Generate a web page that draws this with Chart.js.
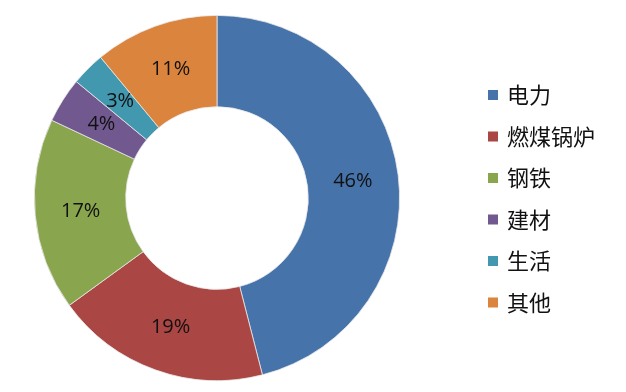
<!DOCTYPE html>
<html>
<head>
<meta charset="utf-8">
<script src="https://cdn.jsdelivr.net/npm/chart.js@4"></script>
<style>
  html, body { margin: 0; padding: 0; background: #fff; }
  #wrap { width: 626px; height: 392px; }
</style>
</head>
<body>
<div id="wrap"><canvas id="myChart" width="626" height="392"></canvas></div>
<script>
"use strict";

let categories = ['电力', '燃煤锅炉', '钢铁', '建材', '生活', '其他'];
let shares = [46, 19, 17, 4, 3, 11];
let sliceColors = ['#4673AA', '#AA4643', '#89A54E', '#71588F', '#4198AF', '#DB843D'];

// percent labels in the middle of each slice
let sliceLabels = {
    id: 'sliceLabels',
    afterDatasetsDraw(chart){
        let ctx = chart.ctx;
        let meta = chart.getDatasetMeta(0);
        let total = shares.reduce((a, b) => a + b, 0);
        ctx.save();
        ctx.font = '20px "Open Sans", sans-serif';
        ctx.fillStyle = '#111';
        ctx.textAlign = 'center';
        ctx.textBaseline = 'middle';
        for(let i = 0; i < meta.data.length; i++){
            let p = meta.data[i].getCenterPoint();
            let pct = Math.round(shares[i] / total * 100);
            ctx.fillText(pct + '%', p.x, p.y);
        }
        ctx.restore();
    }
};

// legend on the right side, Excel style
let sideLegend = {
    id: 'sideLegend',
    afterDraw(chart){
        let ctx = chart.ctx;
        let x = 488, y = 95, step = 41.5;
        ctx.save();
        ctx.textBaseline = 'middle';
        ctx.font = '22px "Noto Sans CJK SC", sans-serif';
        for(let i = 0; i < categories.length; i++){
            let cy = y + i * step;
            ctx.fillStyle = sliceColors[i];
            ctx.fillRect(x, cy - 5, 10, 10);
            ctx.fillStyle = '#111';
            ctx.fillText(categories[i], x + 19, cy);
        }
        ctx.restore();
    }
};

const ctx = document.getElementById('myChart').getContext('2d');
const myChart = new Chart(ctx, {
    type: 'doughnut',
    data: {
        labels: categories,
        datasets: [{
            data: shares,
            backgroundColor: sliceColors,
            borderColor: '#e8e8e8',
            borderWidth: 0.8
        }]
    },
    options: {
        responsive: false,
        animation: false,
        cutout: '50%',
        layout: {
            padding: { left: 34, right: 226, top: 15, bottom: 11 }
        },
        plugins: {
            legend: { display: false },
            tooltip: { enabled: false }
        }
    },
    plugins: [sliceLabels, sideLegend]
});
</script>
</body>
</html>
